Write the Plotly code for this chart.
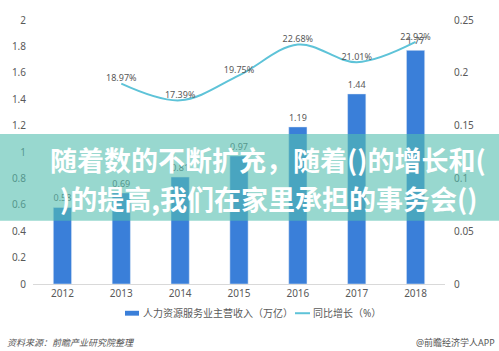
import plotly.graph_objects as go

years = ["2012", "2013", "2014", "2015", "2016", "2017", "2018"]
revenue = [0.58, 0.69, 0.81, 0.97, 1.19, 1.44, 1.77]
growth_years = ["2013", "2014", "2015", "2016", "2017", "2018"]
growth = [0.1897, 0.1739, 0.1975, 0.2268, 0.2101, 0.2292]
growth_labels = ["18.97%", "17.39%", "19.75%", "22.68%", "21.01%", "22.92%"]
bar_name = "人力资源服务业主营收入（万亿）"
line_name = "同比增长（%）"
banner_lines = ["随着数的不断扩充，随着()的增长和(", ")的提高,我们在家里承担的事务会()"]
source_text = "资料来源：前瞻产业研究院整理"
credit_text = "@前瞻经济学人APP"

W, H = 499, 351
L, R, T, B = 33, 54, 13, 67
pw, ph = W - L - R, H - T - B

def px_x(x):
    return (x - L) / pw

def px_y(y):
    return (H - B - y) / ph

FONT = "Noto Sans, Noto Sans CJK SC, sans-serif"
BAR_C = "#3a7fd9"
LINE_C = "#5ec3d8"
GREY = "#595959"

fig = go.Figure()
fig.add_trace(go.Bar(
    x=years, y=revenue, name=bar_name, marker_color=BAR_C,
    text=[f"{v:.2f}" for v in revenue], textposition="outside",
    textfont=dict(size=9, color=GREY), cliponaxis=False, showlegend=False,
))
fig.add_trace(go.Scatter(
    x=growth_years, y=growth, name=line_name, yaxis="y2",
    mode="lines+text", line=dict(color=LINE_C, width=2, shape="spline", smoothing=1.0),
    text=growth_labels, textposition="top center",
    textfont=dict(size=9, color=GREY), cliponaxis=False, showlegend=False,
))

shapes = []
annotations = []
# legend (manual)
shapes.append(dict(type="rect", xref="paper", yref="paper",
                   x0=px_x(125), x1=px_x(139), y0=px_y(316.5), y1=px_y(311.5),
                   fillcolor=BAR_C, line=dict(width=0)))
annotations.append(dict(text=bar_name, xref="paper", yref="paper", x=px_x(141), y=px_y(314),
                        xanchor="left", yanchor="middle", showarrow=False,
                        font=dict(size=10, color=GREY, family=FONT)))
shapes.append(dict(type="line", xref="paper", yref="paper",
                   x0=px_x(295), x1=px_x(310), y0=px_y(314), y1=px_y(314),
                   line=dict(color=LINE_C, width=2)))
annotations.append(dict(text=line_name, xref="paper", yref="paper", x=px_x(311), y=px_y(314),
                        xanchor="left", yanchor="middle", showarrow=False,
                        font=dict(size=10, color=GREY, family=FONT)))
# footer
annotations.append(dict(text="<i>" + source_text + "</i>", xref="paper", yref="paper",
                        x=px_x(5), y=px_y(344), xanchor="left", yanchor="middle", showarrow=False,
                        font=dict(size=9, color="#555555", family=FONT)))
annotations.append(dict(text=credit_text, xref="paper", yref="paper",
                        x=px_x(497), y=px_y(344), xanchor="right", yanchor="middle", showarrow=False,
                        font=dict(size=9, color="#555555", family=FONT)))
# banner overlay
shapes.append(dict(type="rect", xref="paper", yref="paper", layer="above",
                   x0=px_x(0), x1=px_x(W), y0=px_y(219), y1=px_y(130),
                   fillcolor="rgba(84,190,175,0.6)", line=dict(width=0)))
for txt, yc in zip(banner_lines, [156, 196]):
    annotations.append(dict(text="<b>" + txt + "</b>", xref="paper", yref="paper",
                            x=px_x(268), y=px_y(yc), xanchor="center", yanchor="middle",
                            showarrow=False,
                            font=dict(size=27, color="white", family="Noto Sans CJK SC")))

fig.update_layout(
    width=W, height=H, margin=dict(l=L, r=R, t=T, b=B),
    paper_bgcolor="white", plot_bgcolor="white",
    font=dict(family=FONT, size=10, color=GREY),
    bargap=0.69, showlegend=False,
    xaxis=dict(type="category", showline=True, linecolor="#d9d9d9", linewidth=1,
               ticks="", showgrid=False, tickfont=dict(size=10, color=GREY)),
    yaxis=dict(range=[0, 2], dtick=0.2, showgrid=False, zeroline=False, showline=False,
               tickfont=dict(size=10, color=GREY), ticklabelstandoff=6),
    yaxis2=dict(range=[0, 0.25], dtick=0.05, overlaying="y", side="right",
                showgrid=False, zeroline=False, showline=False,
                tickfont=dict(size=10, color=GREY), ticklabelstandoff=8),
    shapes=shapes, annotations=annotations,
)
fig.write_html("out.html")
